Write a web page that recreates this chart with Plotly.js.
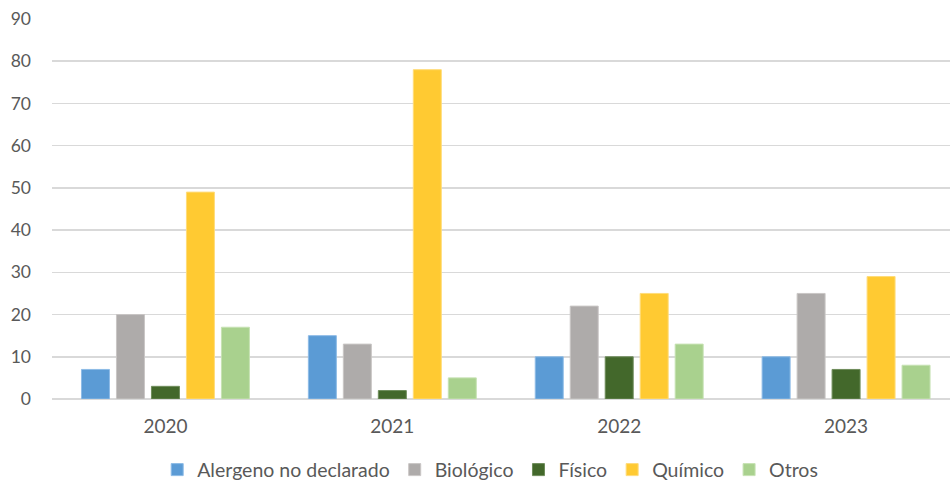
<!DOCTYPE html>
<html>
<head>
<meta charset="utf-8">
<script src="https://cdn.plot.ly/plotly-3.0.1.min.js"></script>
<style>html,body{margin:0;padding:0;background:#fff;}#chart{width:950px;height:481px;}</style>
</head>
<body>
<div id="chart"></div>
<script>
const years = ["2020", "2021", "2022", "2023"];
const seriesNames = ["Alergeno no declarado", "Biológico", "Físico", "Químico", "Otros"];
const alergeno = [7, 15, 10, 10];
const biologico = [20, 13, 22, 25];
const fisico = [3, 2, 10, 7];
const quimico = [49, 78, 25, 29];
const otros = [17, 5, 13, 8];
const colors = ["#5B9BD5", "#AEABAA", "#43682B", "#FFCA32", "#A9D18E"];
const lineColors = ["#8DBBE6", "#C9C6C5", "#6E8C5A", "#FFDC7A", "#C6E2B3"];

const values = [alergeno, biologico, fisico, quimico, otros];
const traces = values.map((v, i) => ({
  type: "bar",
  name: seriesNames[i],
  x: years,
  y: v,
  marker: {color: colors[i], line: {color: lineColors[i], width: 1}},
  hoverinfo: "x+y+name"
}));

const layout = {
  width: 950,
  height: 481,
  margin: {l: 51.5, r: 0, t: 19, b: 82, autoexpand: false},
  paper_bgcolor: "#ffffff",
  plot_bgcolor: "#ffffff",
  barmode: "group",
  bargap: 0.229,
  bargroupgap: 0.2,
  font: {family: "Lato, 'Open Sans', sans-serif", color: "#595959", size: 17},
  xaxis: {
    type: "category",
    range: [-0.5, 3.458],
    showgrid: false,
    showline: false,
    ticks: "",
    ticklabelstandoff: 14,
    tickfont: {size: 19, color: "#595959"},
    automargin: false,
    fixedrange: true
  },
  yaxis: {
    range: [0, 90],
    dtick: 10,
    tick0: 0,
    showgrid: true,
    gridcolor: "#D9D9D9",
    gridwidth: 1.5,
    zeroline: true,
    zerolinecolor: "#D9D9D9",
    zerolinewidth: 1.5,
    showline: false,
    ticks: "",
    ticklabelstandoff: 20,
    tickfont: {size: 17.5, color: "#595959"},
    automargin: false,
    fixedrange: true
  },
  showlegend: true,
  legend: {
    orientation: "h",
    x: 0.516,
    xanchor: "center",
    xref: "container",
    y: 0.023,
    yref: "container",
    yanchor: "middle",
    font: {size: 19.5, color: "#595959"},
    itemwidth: 30,
    traceorder: "normal"
  }
};

Plotly.newPlot("chart", traces, layout, {displayModeBar: false, staticPlot: true});
</script>
</body>
</html>
